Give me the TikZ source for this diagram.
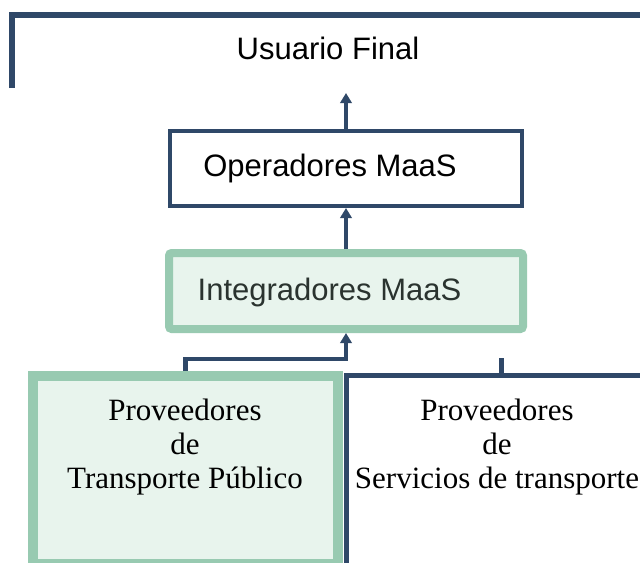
\documentclass[tikz,border=0pt]{standalone}
\usepackage{fontspec}
\setmainfont{Liberation Serif}
\setsansfont{Liberation Sans}
\usetikzlibrary{arrows.meta}
\definecolor{maasblue}{HTML}{2F4868}
\definecolor{maasgreen}{HTML}{98CAB1}
\definecolor{maasmint}{HTML}{E8F4ED}
\definecolor{maasgray}{HTML}{2A332F}
\tikzset{
  bluebox/.style={draw=maasblue, line width=3pt, inner sep=0pt},
  greenbox/.style={draw=maasgreen, fill=maasmint, inner sep=0pt},
  sanslabel/.style={font=\sffamily\fontsize{23.25}{26}\selectfont},
  seriflabel/.style={align=center, font=\fontsize{23.25}{25.5}\selectfont},
  conn/.style={draw=maasblue, line width=3.5pt},
  up/.style={conn, -{Triangle[width=8.5pt,length=7.5pt]}}
}
\begin{document}
\begin{tikzpicture}[x=0.75pt,y=-0.75pt]
    \useasboundingbox (0,0) rectangle (640,562);
    \clip (0,0) rectangle (640,562);
    % top frame
    \draw [conn, line width=4pt] (12,88) -- (12,15) -- (660,15);
    \node [sanslabel] (usuario) at (328,48) {Usuario Final};
    \coordinate (usuario-in) at (346,93);
    % middle boxes
    \node [bluebox, minimum width=264pt, minimum height=56.25pt] (oper) at (346,168.5) {};
    \node [sanslabel] (oper-txt) at (330,168) {Operadores MaaS};
    \node [greenbox, line width=6pt, rounded corners=2pt,
           minimum width=265.5pt, minimum height=57pt] (integ) at (346,291) {};
    \node [sanslabel, text=maasgray] (integ-txt) at (329.5,292) {Integradores MaaS};
    % bottom boxes
    \node [greenbox, line width=7.5pt, minimum width=228.75pt, minimum height=141pt] (publico) at (185.5,470) {};
    \node [bluebox, line width=3.75pt, minimum width=265pt, minimum height=168pt] (servicios) at (523,487.5) {};
    \node [seriflabel] (publico-txt) at (185,447) {Proveedores\\de\\Transporte Público};
    \node [seriflabel] (servicios-txt) at (497,447) {Proveedores\\de\\Servicios de transporte};
    \coordinate (servicios-in) at (501.5,358);
    % connectors
    \draw [up] (oper.north) -- (usuario-in);
    \draw [up] (integ.north) -- (oper.south);
    \draw [up] (publico.north) -- ++(0,-12) -| (integ.south);
    \draw [conn] (servicios-in) -- (servicios-in |- servicios.north);
  \end{tikzpicture}
\end{document}
